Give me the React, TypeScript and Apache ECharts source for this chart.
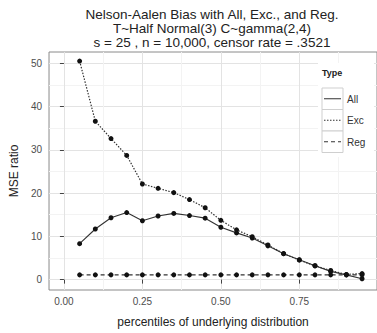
import React, { useEffect, useRef } from "react";
import * as echarts from "echarts";

const percentiles = [0.05, 0.1, 0.15, 0.2, 0.25, 0.3, 0.35, 0.4, 0.45, 0.5, 0.55, 0.6, 0.65, 0.7, 0.75, 0.8, 0.85, 0.9, 0.95];
const allValues = [8.3, 11.7, 14.3, 15.5, 13.6, 14.7, 15.3, 14.8, 14.2, 12.1, 10.8, 9.6, 7.8, 6.0, 4.6, 3.2, 1.9, 1.1, 0.2];
const excValues = [50.5, 36.6, 32.6, 28.7, 22.1, 21.1, 20.1, 18.5, 16.6, 13.7, 11.5, 9.9, 8.0, 6.0, 4.5, 3.2, 2.1, 1.2, 1.4];
const regValues = [1.1, 1.1, 1.1, 1.1, 1.1, 1.1, 1.1, 1.1, 1.1, 1.1, 1.1, 1.1, 1.1, 1.1, 1.1, 1.1, 1.1, 1.1, 1.1];

const typeNames = ["All", "Exc", "Reg"];
const xMajorTicks = [0, 0.25, 0.5, 0.75];
const xMinorTicks = [0.125, 0.375, 0.625, 0.875];
const yMajorTicks = [0, 10, 20, 30, 40, 50];
const yMinorTicks = [5, 15, 25, 35, 45];
const titleLines = [
  "Nelson-Aalen Bias with All, Exc., and Reg.",
  "T~Half Normal(3) C~gamma(2,4)",
  "s = 25 , n = 10,000, censor rate = .3521",
];

const FONT = "'Liberation Sans', Arial, sans-serif";
const LINE_TYPES: any[] = ["solid", [1.5, 1.5], [4, 3]];

export default function App() {
  const ref = useRef<HTMLDivElement>(null);
  useEffect(() => {
    if (!ref.current) return;
    const chart = echarts.init(ref.current, null, { renderer: "svg" });
    const seriesValues = [allValues, excValues, regValues];
    const legendGraphics: any[] = [
      { type: "rect", shape: { x: 318, y: 63, width: 56, height: 94 }, style: { fill: "#fff" }, z: 10 },
      { type: "text", x: 322, y: 73, style: { text: "Type", fill: "#222", font: `bold 9px ${FONT}`, verticalAlign: "middle" }, z: 11 },
    ];
    typeNames.forEach((name, i) => {
      const y0 = 88 + i * 21.5;
      legendGraphics.push({
        type: "rect",
        shape: { x: 322, y: y0, width: 21, height: 21.5 },
        style: { fill: "#fff", stroke: "#cfcfcf", lineWidth: 1 },
        z: 11,
      });
      legendGraphics.push({
        type: "line",
        shape: { x1: 324, y1: y0 + 10.75, x2: 341, y2: y0 + 10.75 },
        style: { stroke: "#333", lineWidth: 1, lineDash: LINE_TYPES[i] === "solid" ? null : LINE_TYPES[i] },
        z: 12,
      });
      legendGraphics.push({
        type: "text",
        x: 347,
        y: y0 + 11,
        style: { text: name, fill: "#333", font: `10px ${FONT}`, verticalAlign: "middle" },
        z: 12,
      });
    });

    const axisCommon = {
      type: "value",
      min: -0.0475,
      max: 0.9975,
    };

    chart.setOption({
      animation: false,
      backgroundColor: "#fff",
      grid: {
        left: 44,
        right: 0,
        top: 52,
        bottom: 38,
        show: true,
        borderColor: "#8a8a8a",
        borderWidth: 1,
        backgroundColor: "#fff",
      },
      xAxis: [
        {
          ...axisCommon,
          name: "percentiles of underlying distribution",
          nameLocation: "middle",
          nameGap: 26,
          nameTextStyle: { fontFamily: FONT, fontSize: 12, color: "#222" },
          axisLine: { show: false },
          axisTick: { show: true, length: 4, inside: false, lineStyle: { color: "#444" }, customValues: xMajorTicks },
          axisLabel: {
            customValues: xMajorTicks,
            fontFamily: FONT,
            fontSize: 10,
            color: "#4d4d4d",
            margin: 6,
            formatter: (v: number) => v.toFixed(2),
          },
          splitLine: { show: true, lineStyle: { color: "#e3e3e3", width: 1 } },
        },
        {
          ...axisCommon,
          show: true,
          axisLine: { show: false },
          axisTick: { show: false, customValues: xMinorTicks },
          axisLabel: { show: false, customValues: xMinorTicks },
          splitLine: { show: true, lineStyle: { color: "#f3f3f3", width: 1 } },
        },
      ],
      yAxis: [
        {
          type: "value",
          min: -2.4,
          max: 52.6,
          name: "MSE ratio",
          nameLocation: "middle",
          nameGap: 28,
          nameTextStyle: { fontFamily: FONT, fontSize: 12, color: "#222" },
          axisLine: { show: false },
          axisTick: { show: true, length: 4, lineStyle: { color: "#444" }, customValues: yMajorTicks },
          axisLabel: { customValues: yMajorTicks, fontFamily: FONT, fontSize: 10, color: "#4d4d4d", margin: 7 },
          splitLine: { show: true, lineStyle: { color: "#e3e3e3", width: 1 } },
        },
        {
          type: "value",
          min: -2.4,
          max: 52.6,
          show: true,
          axisLine: { show: false },
          axisTick: { show: false, customValues: yMinorTicks },
          axisLabel: { show: false, customValues: yMinorTicks },
          splitLine: { show: true, lineStyle: { color: "#f3f3f3", width: 1 } },
        },
      ],
      series: typeNames.map((name, i) => ({
        name,
        type: "line",
        xAxisIndex: 0,
        yAxisIndex: 0,
        data: percentiles.map((p, j) => [p, seriesValues[i][j]]),
        symbol: "circle",
        symbolSize: 5,
        showSymbol: true,
        itemStyle: { color: "#111" },
        lineStyle: { color: "#333", width: i === 0 ? 1.1 : 1.2, type: LINE_TYPES[i] },
        z: 3,
      })),
      graphic: [
        {
          type: "text",
          x: 212,
          y: 7,
          style: {
            text: titleLines.join("\n"),
            fill: "#222",
            font: `13.5px ${FONT}`,
            align: "center",
            verticalAlign: "top",
            lineHeight: 14,
          },
        },
        ...legendGraphics,
      ],
    });
    return () => chart.dispose();
  }, []);
  return <div ref={ref} style={{ position: "absolute", left: 0, top: 0, width: 377, height: 333 }} />;
}
